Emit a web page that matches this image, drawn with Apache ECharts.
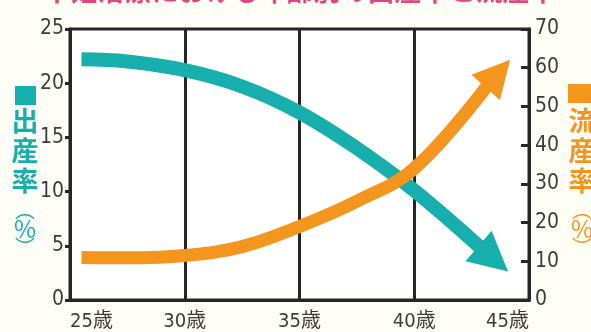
<!DOCTYPE html>
<html>
<head>
<meta charset="utf-8">
<script src="https://cdn.jsdelivr.net/npm/echarts@6/dist/echarts.min.js"></script>
<style>
html,body{margin:0;padding:0;background:#fefdf6;}
#chart{width:591px;height:332px;}
</style>
</head>
<body>
<div id="chart"></div>
<script>
// ---- data ----
const titleText = '不妊治療における年齢別の出産率と流産率';
const xTicks = [25, 30, 35, 40, 45];
const tealAges  = [25.5, 27.5, 30, 32.5, 35, 37.5, 40, 42.9];
const tealRates = [22.2, 22.0, 21.2, 19.7, 17.3, 14.0, 10.1, 4.8];   // 出産率 (%)
const orangeAges  = [25.5, 27.5, 30, 32.5, 35, 37.5, 40, 43.2];
const orangeRates = [11.0, 10.9, 11.5, 13.8, 19.0, 25.5, 34.0, 55.5]; // 流産率 (%)
const leftName = ['出', '産', '率', '︵', '%', '︶'];
const rightName = ['流', '産', '率', '︵', '%', '︶'];

const TEAL = '#17aeae';
const ORANGE = '#f4951d';
const INK = '#262626';
const LABEL = '#3d3d3d';
const numFont = '"Liberation Sans Narrow", "DejaVu Sans Condensed", "Noto Sans CJK JP", sans-serif';

const tealData = tealAges.map((a, i) => [a, tealRates[i]]);
const orangeData = orangeAges.map((a, i) => [a, orangeRates[i]]);

function arrowHead(data, L, W, color) {
  return function (params, api) {
    const n = data.length;
    const a = api.coord(data[n - 2]);
    const b = api.coord(data[n - 1]);
    let dx = b[0] - a[0], dy = b[1] - a[1];
    const len = Math.sqrt(dx * dx + dy * dy);
    dx /= len; dy /= len;
    const px = -dy, py = dx;
    const bx = b[0] - dx * 3, by = b[1] - dy * 3;
    return {
      type: 'polygon',
      shape: { points: [
        [b[0] + dx * L, b[1] + dy * L],
        [bx + px * W / 2, by + py * W / 2],
        [bx - px * W / 2, by - py * W / 2]
      ] },
      style: { fill: color }
    };
  };
}

function vertName(chars, cx, ys, color, sizes, weights) {
  return chars.map((c, i) => ({
    type: 'text',
    x: cx, y: ys[i],
    style: {
      text: c, fill: color, fontSize: sizes[i], fontWeight: weights[i],
      fontFamily: '"Noto Sans CJK JP", sans-serif',
      align: 'center', verticalAlign: 'middle'
    }
  }));
}

const chart = echarts.init(document.getElementById('chart'), null, { renderer: 'canvas' });
const nameYs = [121, 151, 181, 210, 229, 247];
const nameSizes = [27, 27, 27, 20, 24, 20];
const nameWeights = ['bold', 'bold', 'bold', 'normal', 'normal', 'normal'];

chart.setOption({
  backgroundColor: '#fefdf6',
  animation: false,
  grid: { left: 70, right: 62, top: 29, bottom: 30, show: true, backgroundColor: '#ffffff', borderColor: INK, borderWidth: 3 },
  xAxis: {
    type: 'value', min: xTicks[0], max: xTicks[xTicks.length - 1], interval: 5,
    axisLine: { show: true, lineStyle: { color: INK, width: 3 } },
    axisTick: { show: false },
    splitLine: { show: true, lineStyle: { color: INK, width: 3 } },
    axisLabel: {
      formatter: v => v + '歳', color: LABEL, fontSize: 20, margin: 12,
      fontFamily: numFont, alignMinLabel: 'left', alignMaxLabel: 'right'
    }
  },
  yAxis: [
    {
      type: 'value', min: 0, max: 25, interval: 5, position: 'left',
      axisLine: { show: true, lineStyle: { color: INK, width: 3 } },
      axisTick: { show: true, inside: false, length: 5, lineStyle: { color: INK, width: 3 } },
      splitLine: { show: false },
      axisLabel: { color: LABEL, fontSize: 21, margin: 6, fontFamily: numFont }
    },
    {
      type: 'value', min: 0, max: 70, interval: 10, position: 'right',
      axisLine: { show: true, lineStyle: { color: INK, width: 3 } },
      axisTick: { show: true, inside: true, length: 8, lineStyle: { color: INK, width: 3 } },
      splitLine: { show: false },
      axisLabel: { color: LABEL, fontSize: 21, margin: 6, fontFamily: numFont }
    }
  ],
  series: [
    {
      name: '出産率', type: 'line', xAxisIndex: 0, yAxisIndex: 0, data: tealData,
      smooth: 0.4, showSymbol: false, symbol: 'none', z: 3,
      lineStyle: { color: TEAL, width: 14, cap: 'butt' }
    },
    {
      type: 'custom', xAxisIndex: 0, yAxisIndex: 0, data: [[0]], z: 3,
      renderItem: arrowHead(tealData, 36, 40, TEAL)
    },
    {
      name: '流産率', type: 'line', xAxisIndex: 0, yAxisIndex: 1, data: orangeData,
      smooth: 0.4, showSymbol: false, symbol: 'none', z: 4,
      lineStyle: { color: ORANGE, width: 13, cap: 'butt' }
    },
    {
      type: 'custom', xAxisIndex: 0, yAxisIndex: 1, data: [[0]], z: 4,
      renderItem: arrowHead(orangeData, 34, 38, ORANGE)
    }
  ],
  graphic: [
    {
      type: 'text', x: 300, y: -23,
      style: { text: titleText, fill: '#e4457c', fontSize: 27, fontWeight: 'bold',
        fontFamily: '"Noto Sans CJK JP", sans-serif', align: 'center', verticalAlign: 'top' }
    },
    { type: 'rect', shape: { x: 15, y: 86, width: 21, height: 19 }, style: { fill: TEAL } },
    ...vertName(leftName, 25, nameYs, TEAL, nameSizes, nameWeights),
    { type: 'rect', shape: { x: 568, y: 84, width: 24, height: 19 }, style: { fill: ORANGE } },
    ...vertName(rightName, 582, nameYs, ORANGE, nameSizes, nameWeights)
  ]
});
</script>
</body>
</html>
